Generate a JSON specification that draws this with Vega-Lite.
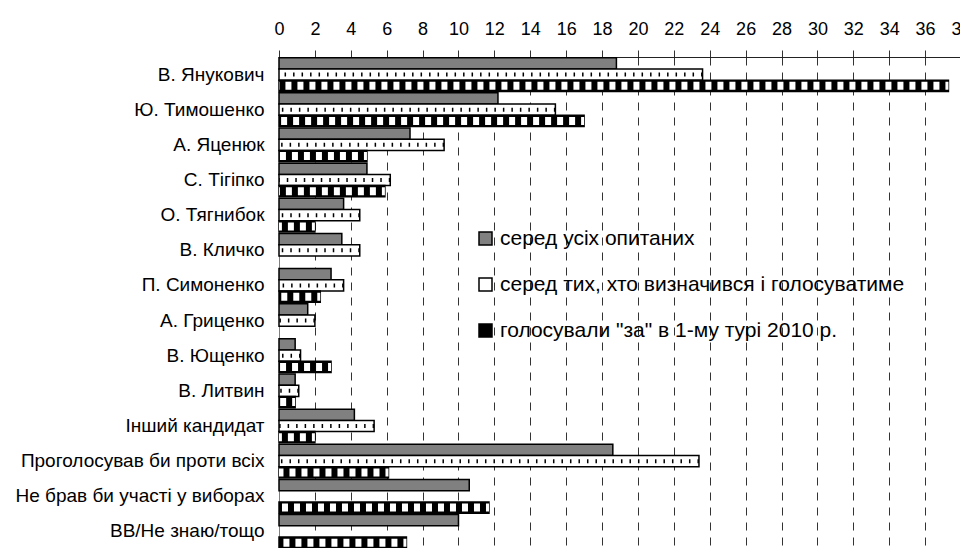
{
  "$schema": "https://vega.github.io/schema/vega-lite/v6.json",
  "autosize": {"type": "none"},
  "padding": {"left": 279, "top": 57, "right": 0, "bottom": 0},
  "width": 682,
  "height": 492,
  "background": "white",
  "config": {
    "font": "Liberation Sans",
    "view": {"stroke": null},
    "axis": {"labelFont": "Liberation Sans", "labelFontSize": 19, "labelColor": "black", "labelLimit": 400},
    "legend": {"labelFont": "Liberation Sans", "labelFontSize": 21, "labelColor": "black"}
  },
  "data": {
    "values": [
      {"cat": "В. Янукович", "s": "серед усіх опитаних", "v": 18.8},
      {"cat": "В. Янукович", "s": "серед тих, хто визначився і голосуватиме", "v": 23.6},
      {"cat": "В. Янукович", "s": "голосували \"за\" в 1-му турі 2010 р.", "v": 37.3},
      {"cat": "Ю. Тимошенко", "s": "серед усіх опитаних", "v": 12.2},
      {"cat": "Ю. Тимошенко", "s": "серед тих, хто визначився і голосуватиме", "v": 15.4},
      {"cat": "Ю. Тимошенко", "s": "голосували \"за\" в 1-му турі 2010 р.", "v": 17.0},
      {"cat": "А. Яценюк", "s": "серед усіх опитаних", "v": 7.3},
      {"cat": "А. Яценюк", "s": "серед тих, хто визначився і голосуватиме", "v": 9.2},
      {"cat": "А. Яценюк", "s": "голосували \"за\" в 1-му турі 2010 р.", "v": 4.9},
      {"cat": "С. Тігіпко", "s": "серед усіх опитаних", "v": 4.9},
      {"cat": "С. Тігіпко", "s": "серед тих, хто визначився і голосуватиме", "v": 6.2},
      {"cat": "С. Тігіпко", "s": "голосували \"за\" в 1-му турі 2010 р.", "v": 5.9},
      {"cat": "О. Тягнибок", "s": "серед усіх опитаних", "v": 3.6},
      {"cat": "О. Тягнибок", "s": "серед тих, хто визначився і голосуватиме", "v": 4.5},
      {"cat": "О. Тягнибок", "s": "голосували \"за\" в 1-му турі 2010 р.", "v": 2.0},
      {"cat": "В. Кличко", "s": "серед усіх опитаних", "v": 3.5},
      {"cat": "В. Кличко", "s": "серед тих, хто визначився і голосуватиме", "v": 4.5},
      {"cat": "П. Симоненко", "s": "серед усіх опитаних", "v": 2.9},
      {"cat": "П. Симоненко", "s": "серед тих, хто визначився і голосуватиме", "v": 3.6},
      {"cat": "П. Симоненко", "s": "голосували \"за\" в 1-му турі 2010 р.", "v": 2.3},
      {"cat": "А. Гриценко", "s": "серед усіх опитаних", "v": 1.6},
      {"cat": "А. Гриценко", "s": "серед тих, хто визначився і голосуватиме", "v": 2.0},
      {"cat": "В. Ющенко", "s": "серед усіх опитаних", "v": 0.9},
      {"cat": "В. Ющенко", "s": "серед тих, хто визначився і голосуватиме", "v": 1.2},
      {"cat": "В. Ющенко", "s": "голосували \"за\" в 1-му турі 2010 р.", "v": 2.9},
      {"cat": "В. Литвин", "s": "серед усіх опитаних", "v": 0.9},
      {"cat": "В. Литвин", "s": "серед тих, хто визначився і голосуватиме", "v": 1.1},
      {"cat": "В. Литвин", "s": "голосували \"за\" в 1-му турі 2010 р.", "v": 0.9},
      {"cat": "Інший кандидат", "s": "серед усіх опитаних", "v": 4.2},
      {"cat": "Інший кандидат", "s": "серед тих, хто визначився і голосуватиме", "v": 5.3},
      {"cat": "Інший кандидат", "s": "голосували \"за\" в 1-му турі 2010 р.", "v": 2.0},
      {"cat": "Проголосував би проти всіх", "s": "серед усіх опитаних", "v": 18.6},
      {"cat": "Проголосував би проти всіх", "s": "серед тих, хто визначився і голосуватиме", "v": 23.4},
      {"cat": "Проголосував би проти всіх", "s": "голосували \"за\" в 1-му турі 2010 р.", "v": 6.1},
      {"cat": "Не брав би участі у виборах", "s": "серед усіх опитаних", "v": 10.6},
      {"cat": "Не брав би участі у виборах", "s": "голосували \"за\" в 1-му турі 2010 р.", "v": 11.7},
      {"cat": "ВВ/Не знаю/тощо", "s": "серед усіх опитаних", "v": 10.0},
      {"cat": "ВВ/Не знаю/тощо", "s": "голосували \"за\" в 1-му турі 2010 р.", "v": 7.1}
    ]
  },
  "encoding": {
    "y": {
      "field": "cat", "type": "nominal", "sort": null, "title": null,
      "scale": {"paddingInner": 0.04, "paddingOuter": 0.02},
      "axis": {"ticks": false, "labelPadding": 15, "domainColor": "#808080", "domainWidth": 1}
    },
    "yOffset": {
      "field": "s", "type": "nominal",
      "scale": {"domain": ["серед усіх опитаних", "серед тих, хто визначився і голосуватиме", "голосували \"за\" в 1-му турі 2010 р."], "paddingInner": 0}
    },
    "x": {
      "field": "v", "type": "quantitative", "title": null,
      "scale": {"domain": [0, 38], "nice": false},
      "axis": {
        "orient": "top", "values": [0,2,4,6,8,10,12,14,16,18,20,22,24,26,28,30,32,34,36,38],
        "labelOverlap": false, "labelBound": false, "labelFlush": false, "labelFontSize": 18,
        "tickSize": 7, "tickColor": "#333", "labelPadding": 12, "domainColor": "#222", "domainWidth": 1,
        "grid": true, "gridDash": [8, 7], "gridColor": "#333", "gridWidth": 1
      }
    }
  },
  "layer": [
    {
      "mark": {"type": "bar", "stroke": "black", "strokeWidth": 1.5},
      "encoding": {
        "fill": {
          "field": "s", "type": "nominal", "title": null,
          "scale": {"domain": ["серед усіх опитаних", "серед тих, хто визначився і голосуватиме", "голосували \"за\" в 1-му турі 2010 р."], "range": ["#808080", "#ffffff", "#000000"]},
          "legend": {
            "orient": "none", "legendX": 196, "legendY": 171, "symbolType": "square", "symbolSize": 169,
            "symbolStrokeColor": "black", "symbolStrokeWidth": 1.5, "rowPadding": 24, "labelOffset": 4,
            "labelLimit": 500
          }
        }
      }
    },
    {
      "transform": [{"filter": "datum.s === 'серед тих, хто визначився і голосуватиме'"}],
      "mark": {"type": "rule", "stroke": "black", "strokeWidth": 4, "strokeDash": [1.5, 7]},
      "encoding": {
        "x2": {"datum": 0}
      }
    },
    {
      "transform": [{"filter": "datum.s === 'голосували \"за\" в 1-му турі 2010 р.'"}],
      "mark": {"type": "rule", "stroke": "white", "strokeWidth": 8, "strokeDash": [6, 6], "strokeDashOffset": 3},
      "encoding": {
        "x2": {"datum": 0}
      }
    }
  ]
}
